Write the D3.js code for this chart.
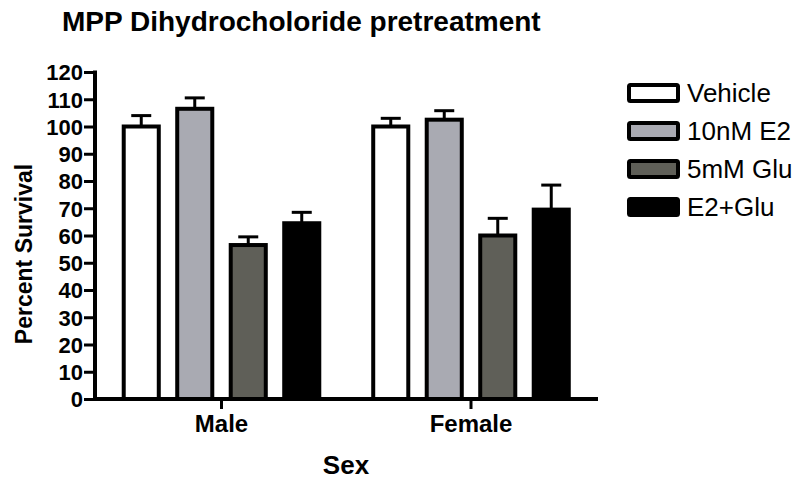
<!DOCTYPE html>
<html>
<head>
<meta charset="utf-8">
<script src="https://cdn.jsdelivr.net/npm/d3@7"></script>
<style>
  body { margin: 0; background: #fff; }
  text { font-family: "Liberation Sans", Arial, sans-serif; fill: #000; }
</style>
</head>
<body>
<div id="chart"></div>
<script>
// data
let groups = ["Male", "Female"];
let series = ["Vehicle", "10nM E2", "5mM Glu", "E2+Glu"];
let seriesColors = ["#ffffff", "#a9aab2", "#5f5f58", "#000000"];
let maleValues = [100, 106.5, 56.5, 64.5];
let maleErrors = [4, 4, 3, 4];
let femaleValues = [100, 102.5, 60, 69.5];
let femaleErrors = [3, 3.3, 6.3, 9];
let yTicks = [0, 10, 20, 30, 40, 50, 60, 70, 80, 90, 100, 110, 120];

let width = 800, height = 480;

let svg = d3.select("#chart").append("svg")
    .attr("width", width)
    .attr("height", height);

// scales
let x0 = d3.scaleBand()
    .domain(groups)
    .range([96.75, 595.75]);
let x1 = d3.scaleBand()
    .domain(series)
    .range([-107, 107])
    .paddingInner(0.27)
    .paddingOuter(0.135);
let y = d3.scaleLinear()
    .domain([0, 120])
    .range([399, 72]);
let color = d3.scaleOrdinal().domain(series).range(seriesColors);

let data = [];
groups.forEach(function(g, gi) {
    let vals = gi === 0 ? maleValues : femaleValues;
    let errs = gi === 0 ? maleErrors : femaleErrors;
    series.forEach(function(s, si) {
        data.push({ group: g, series: s, value: vals[si], err: errs[si] });
    });
});

function barCenter(d) {
    return x0(d.group) + x0.bandwidth() / 2 + x1(d.series) + x1.bandwidth() / 2;
}

// error bars (drawn first so the bar stroke sits on top)
let eb = svg.append("g").attr("stroke", "#000").attr("stroke-width", 3);
eb.selectAll(".stem")
    .data(data)
    .enter()
    .append("line")
    .attr("x1", barCenter)
    .attr("x2", barCenter)
    .attr("y1", function(d) { return y(d.value); })
    .attr("y2", function(d) { return y(d.value + d.err); });
eb.selectAll(".cap")
    .data(data)
    .enter()
    .append("line")
    .attr("x1", function(d) { return barCenter(d) - 10; })
    .attr("x2", function(d) { return barCenter(d) + 10; })
    .attr("y1", function(d) { return y(d.value + d.err); })
    .attr("y2", function(d) { return y(d.value + d.err); });

// bars
svg.selectAll(".bar")
    .data(data)
    .enter()
    .append("rect")
    .attr("class", "bar")
    .attr("x", function(d) { return barCenter(d) - x1.bandwidth() / 2 + 2; })
    .attr("width", x1.bandwidth() - 4)
    .attr("y", function(d) { return y(d.value); })
    .attr("height", function(d) { return y(0) - y(d.value); })
    .attr("fill", function(d) { return color(d.series); })
    .attr("stroke", "#000")
    .attr("stroke-width", 4);

// y axis
let yAxis = svg.append("g")
    .attr("transform", "translate(95,0)")
    .call(d3.axisLeft(y).tickValues(yTicks).tickSize(11).tickPadding(1));
yAxis.select(".domain").remove();
yAxis.selectAll(".tick line").attr("stroke", "#000").attr("stroke-width", 3);
yAxis.selectAll(".tick text")
    .style("font-size", "22px")
    .style("font-weight", "bold")
    .attr("dy", "0.36em");
svg.append("line")
    .attr("x1", 95).attr("x2", 95)
    .attr("y1", y(120) - 1.5).attr("y2", y(0) + 2)
    .attr("stroke", "#000").attr("stroke-width", 4);

// x axis
let xAxis = svg.append("g")
    .attr("transform", "translate(0," + y(0) + ")")
    .call(d3.axisBottom(x0).tickSize(10).tickPadding(6));
xAxis.select(".domain").remove();
xAxis.selectAll(".tick line").attr("stroke", "#000").attr("stroke-width", 3);
xAxis.selectAll(".tick text")
    .style("font-size", "24px")
    .style("font-weight", "bold");
svg.append("line")
    .attr("x1", 93).attr("x2", 598)
    .attr("y1", y(0)).attr("y2", y(0))
    .attr("stroke", "#000").attr("stroke-width", 4);

// axis titles
svg.append("text")
    .attr("transform", "translate(32,254) rotate(-90)")
    .style("text-anchor", "middle")
    .style("font-size", "23px")
    .style("font-weight", "bold")
    .text("Percent Survival");

svg.append("text")
    .attr("x", 346)
    .attr("y", 474)
    .style("text-anchor", "middle")
    .style("font-size", "26px")
    .style("font-weight", "bold")
    .text("Sex");

// title
svg.append("text")
    .attr("x", 62)
    .attr("y", 31)
    .style("font-size", "28px")
    .style("font-weight", "bold")
    .text("MPP Dihydrocholoride pretreatment");

// legend
let legend = svg.selectAll(".legend")
    .data(series)
    .enter()
    .append("g")
    .attr("class", "legend")
    .attr("transform", function(d, i) { return "translate(627," + (93 + i * 38) + ")"; });
legend.append("rect")
    .attr("x", 2)
    .attr("y", -8)
    .attr("width", 49)
    .attr("height", 16)
    .attr("rx", 1.5)
    .attr("fill", function(d) { return color(d); })
    .attr("stroke", "#000")
    .attr("stroke-width", 4);
legend.append("text")
    .attr("x", 60)
    .attr("dy", "0.36em")
    .style("font-size", "26px")
    .text(function(d) { return d; });
</script>
</body>
</html>
